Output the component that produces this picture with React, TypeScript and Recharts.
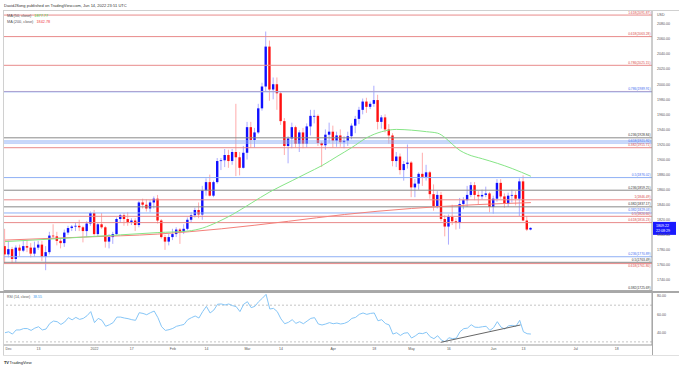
import { Bar, ComposedChart, Line, ReferenceLine, XAxis, YAxis } from 'recharts';

// trading day 0 = Dec 1 2021, -1 = Nov 30, 140 = Jun 15 2022
const firstDay = -1;

const opens = [
  1785, 1774, 1781, 1768, 1783, 1779, 1785, 1783, 1775, 1783, 1787, 1771, 1777, 1799, 1798, 1792, 1789, 1803, 1809, 1811, 1812, 1810, 1805, 1815,
  1829, 1801, 1814, 1810, 1791, 1797, 1801, 1821, 1826, 1821, 1817, 1819, 1813, 1843, 1840, 1835, 1843, 1848, 1819, 1797, 1791,
  1797, 1801, 1807, 1804, 1808, 1820, 1826, 1833, 1827, 1859, 1870, 1852, 1870, 1898, 1899, 1906, 1898, 1910, 1903, 1889,
  1909, 1943, 1926, 1936, 1968, 1997, 2050, 1993, 2000, 1988, 1951, 1918, 1928, 1943, 1921, 1936, 1921, 1944, 1958, 1958, 1922, 1919, 1933,
  1937, 1925, 1932, 1923, 1925, 1931, 1945, 1954, 1966, 1977, 1970, 1974, 1979, 1950, 1956, 1940, 1932, 1898, 1904, 1886, 1894,
  1896, 1863, 1868, 1881, 1877, 1883, 1854, 1838, 1853, 1821, 1811, 1824, 1818, 1816, 1841, 1846, 1853, 1866, 1853, 1851, 1853, 1855,
  1837, 1848, 1869, 1851, 1841, 1852, 1853, 1848, 1871, 1819, 1807,
];
const highs = [
  1808, 1792, 1784, 1786, 1787, 1793, 1793, 1789, 1791, 1792, 1792, 1785, 1804, 1814, 1804, 1795, 1807, 1812, 1813, 1816, 1820, 1812, 1818, 1831,
  1833, 1816, 1829, 1812, 1801, 1804, 1823, 1828, 1829, 1830, 1822, 1822, 1845, 1848, 1847, 1846, 1851, 1853, 1821, 1800, 1801,
  1808, 1810, 1809, 1814, 1823, 1830, 1836, 1843, 1865, 1875, 1880, 1872, 1902, 1902, 1914, 1913, 1914, 1974, 1910, 1918,
  1950, 1950, 1942, 1974, 2002, 2070, 2058, 2009, 2009, 1990, 1955, 1931, 1949, 1945, 1939, 1942, 1948, 1966, 1966, 1960, 1924, 1940, 1949,
  1945, 1937, 1940, 1931, 1937, 1948, 1958, 1970, 1981, 1982, 1977, 1998, 1986, 1959, 1960, 1947, 1935, 1910, 1908, 1898, 1920,
  1898, 1874, 1883, 1909, 1893, 1885, 1867, 1858, 1857, 1826, 1827, 1840, 1822, 1849, 1850, 1865, 1870, 1870, 1858, 1860, 1864, 1857,
  1852, 1874, 1874, 1855, 1856, 1860, 1858, 1875, 1879, 1825, 1810,
];
const lows = [
  1762, 1770, 1762, 1763, 1772, 1777, 1777, 1770, 1771, 1780, 1765, 1753, 1774, 1795, 1786, 1782, 1784, 1800, 1805, 1805, 1805, 1790, 1797, 1812,
  1799, 1798, 1808, 1783, 1782, 1788, 1800, 1816, 1812, 1812, 1813, 1805, 1810, 1835, 1831, 1830, 1835, 1815, 1795, 1780, 1786,
  1793, 1797, 1788, 1801, 1806, 1817, 1823, 1822, 1820, 1852, 1851, 1850, 1868, 1886, 1890, 1889, 1893, 1878, 1879, 1888,
  1900, 1916, 1916, 1934, 1965, 1990, 1978, 1980, 1966, 1946, 1906, 1895, 1915, 1916, 1910, 1915, 1916, 1932, 1948, 1918, 1890, 1913, 1922,
  1916, 1917, 1917, 1915, 1918, 1927, 1935, 1947, 1960, 1962, 1967, 1970, 1940, 1941, 1936, 1921, 1891, 1890, 1880, 1872, 1888,
  1850, 1850, 1860, 1865, 1872, 1848, 1832, 1835, 1818, 1798, 1787, 1813, 1807, 1808, 1834, 1837, 1850, 1846, 1840, 1847, 1850, 1830,
  1828, 1844, 1848, 1836, 1837, 1843, 1839, 1825, 1818, 1805, 1806,
];
const closes = [
  1774, 1781, 1768, 1783, 1779, 1785, 1783, 1775, 1783, 1787, 1771, 1777, 1799, 1798, 1792, 1789, 1803, 1809, 1811, 1812, 1810, 1805, 1815, 1829,
  1801, 1814, 1810, 1791, 1797, 1801, 1821, 1826, 1821, 1817, 1819, 1813, 1843, 1840, 1835, 1843, 1848, 1819, 1797, 1791, 1797,
  1801, 1807, 1804, 1808, 1820, 1826, 1833, 1827, 1859, 1870, 1852, 1870, 1898, 1899, 1906, 1898, 1910, 1903, 1889, 1909,
  1943, 1926, 1936, 1968, 1997, 2050, 1993, 2000, 1988, 1951, 1918, 1928, 1943, 1921, 1936, 1921, 1944, 1958, 1958, 1922, 1919, 1933, 1937,
  1925, 1932, 1923, 1925, 1931, 1945, 1954, 1966, 1977, 1970, 1974, 1979, 1950, 1956, 1940, 1932, 1898, 1904, 1886, 1894, 1896,
  1863, 1868, 1881, 1877, 1883, 1854, 1838, 1853, 1821, 1811, 1824, 1818, 1816, 1841, 1846, 1853, 1866, 1853, 1851, 1853, 1855, 1837,
  1848, 1869, 1851, 1841, 1852, 1853, 1848, 1871, 1819, 1807, 1809.22,
];

const rsiValues = [
  40, 41, 38.5, 43, 43, 44.5, 44.5, 42.5, 45, 46.5, 43, 44, 50, 52.7, 52, 49, 51.6, 56.4, 54, 56.7, 54.5, 55.6, 58.5, 63,
  51, 55.6, 53.5, 47, 48.7, 51, 57, 57, 56, 55.3, 54.2, 53.5, 61.8, 61, 59.6, 61.8, 63.6, 56.4, 46.5, 42.5, 43.3,
  44.7, 47, 48, 49, 54.2, 56.4, 58.2, 56, 63, 68.7, 61.5, 64.7, 71, 71.3, 70.2, 71.3, 69.5, 68.4, 63, 71,
  73.8, 67.3, 68.7, 73.8, 77.5, 81.8, 65.8, 66.5, 63, 55, 49.8, 51.3, 54.2, 50.2, 52, 49.8, 52.7, 55.6, 56.4, 49.5, 48.4, 49.5, 51,
  49.8, 50.5, 49.5, 50.2, 52, 55.6, 56.7, 60, 61.5, 60, 61, 61.5, 53, 54.2, 50, 48.5, 38.5, 40, 37, 39.5, 40,
  34.2, 36.5, 39.5, 39, 40.5, 35.6, 33.5, 36.7, 32, 30, 34.5, 33.5, 34, 41.1, 44.4, 45, 48.7, 46, 45.8, 46.5, 47, 42.5,
  45.5, 52, 46, 44, 47.5, 48, 47, 53.5, 41, 38.9, 38.55,
];

const ma50Points = [
  [-1, 1791], [10, 1794], [20, 1797], [30, 1800], [40, 1803], [48, 1805], [52, 1809], [56, 1817], [60, 1827], [65, 1842],
  [70, 1857], [76, 1872], [80, 1882], [84, 1892], [88, 1904], [92, 1916], [96, 1929], [100, 1937], [104, 1940], [108, 1939],
  [112, 1937], [115, 1935], [117, 1929], [119, 1920], [121, 1912], [123, 1907], [127, 1901], [131, 1895], [135, 1888], [140, 1877.77],
];
const ma200Points = [
  [-1, 1793], [20, 1797], [40, 1801], [57, 1808], [75, 1818], [90, 1827], [108, 1835], [125, 1840], [140, 1842.78],
];

const tickDays = [0, 8, 23, 33, 44, 53, 64, 73, 87, 98, 108, 118, 130, 138, 152, 163];
const tickLabels = ['Dec', '13', '2022', '17', 'Feb', '14', 'Mar', '14', 'Apr', '18', 'May', '16', 'Jun', '13', 'Jul', '18'];
const priceTicks = [1740, 1760, 1780, 1800, 1820, 1840, 1860, 1880, 1900, 1920, 1940, 1960, 1980, 2000, 2020, 2040, 2060, 2080];
const rsiTicks = [40, 60, 80];
const rsiBands = [70, 30];
const rsiTrend = [{ x: 115.8, y: 29.5 }, { x: 137.2, y: 48.4 }];

// below: label drawn under its line instead of above it
const fibLevels = [
  { price: 2091.87, text: '1.618(2091.87)', tone: 'red' },
  { price: 2063.28, text: '0.618(2063.28)', tone: 'red' },
  { price: 2025.15, text: '0.786(2025.15)', tone: 'red' },
  { price: 1990.4, text: '', tone: 'red' },
  { price: 1989.91, text: '0.786(1989.91)', tone: 'blue' },
  { price: 1928.84, text: '0.236(1928.84)', tone: 'black' },
  { price: 1924.6, text: '', tone: 'blue' },
  { price: 1921.92, text: '0.618(1921.92)', tone: 'blue' },
  { price: 1915.71, text: '0.382(1915.71)', tone: 'red' },
  { price: 1876.02, text: '0.5(1876.02)', tone: 'blue' },
  { price: 1859.25, text: '0.236(1859.25)', tone: 'black' },
  { price: 1846.49, text: '1(1846.49)', tone: 'red' },
  { price: 1837.17, text: '0.382(1837.17)', tone: 'black' },
  { price: 1829.03, text: '0.382(1829.03)', tone: 'blue' },
  { price: 1824.6, text: '0.5(1824.60)', tone: 'red' },
  { price: 1816.23, text: '0.618(1816.23)', tone: 'red' },
  { price: 1770.89, text: '0.236(1770.89)', tone: 'blue' },
  { price: 1763.49, text: '0.5(1763.49)', tone: 'black' },
  { price: 1761.8, text: '0.618(1761.80)', tone: 'red', below: true },
  { price: 1725.69, text: '0.382(1725.69)', tone: 'black' },
];

const lastPrice = 1809.22;
const lastClock = '22:08:29';

const lineColor: Record<string, string> = { red: '#e88a8a', blue: '#8fb0f5', black: '#8a8a8a' };
const textColor: Record<string, string> = { red: '#d94a4a', blue: '#3f6df0', black: '#333' };
const font = '"Liberation Sans", Arial, sans-serif';

const rows: any[] = closes.map((c, k) => ({
  i: firstDay + k,
  o: opens[k],
  h: highs[k],
  l: lows[k],
  c,
  rsi: rsiValues[k],
  ma50: null,
  ma200: null,
}));
ma50Points.forEach(([d, v]) => (rows[d - firstDay].ma50 = v));
ma200Points.forEach(([d, v]) => (rows[d - firstDay].ma200 = v));

const xDomain = [-1.53, 172.47];

const Candle = (props: any) => {
  const { x, y, width, height, payload } = props;
  if (!payload || payload.h == null) return null;
  const top = Math.min(y, y + height);
  const span = Math.abs(height);
  const k = span / (payload.h - payload.l || 1);
  const up = payload.c >= payload.o;
  const color = up ? '#1010ff' : '#ff1010';
  const cx = x + width / 2;
  const bodyTop = top + (payload.h - Math.max(payload.o, payload.c)) * k;
  const bodyH = Math.max(0.8, Math.abs(payload.c - payload.o) * k);
  return (
    <g>
      <line x1={cx} x2={cx} y1={top} y2={top + span} stroke={color} strokeOpacity={0.35} strokeWidth={1} />
      <rect x={cx - 1.2} y={bodyTop} width={2.4} height={bodyH} fill={color} />
    </g>
  );
};

const PriceTag = (props: any) => {
  const { viewBox } = props;
  const x = viewBox.x + viewBox.width + 1;
  const y = viewBox.y;
  return (
    <g>
      <rect x={x} y={y - 6} width={23} height={13} fill="#1a1aff" />
      <text x={x + 3} y={y - 0.8} fontSize={3.6} fill="#fff" fontFamily={font}>
        {lastPrice.toFixed(2)}
      </text>
      <text x={x + 3} y={y + 4} fontSize={3.6} fill="#fff" fontFamily={font}>
        {lastClock}
      </text>
    </g>
  );
};

const box = (style: any) => <div style={{ position: 'absolute', background: '#b5b5b5', ...style }} />;

export default function App() {
  return (
    <div style={{ position: 'absolute', left: 0, top: 0, width: 679, height: 368, background: '#fff', fontFamily: font, overflow: 'hidden' }}>
      <div style={{ position: 'absolute', left: 4, top: 3, fontSize: 4, color: '#333', whiteSpace: 'nowrap' }}>
        DavidJSong published on TradingView.com, Jun 14, 2022 23:51 UTC
      </div>

      <div style={{ position: 'absolute', left: 0, top: 0 }}>
        <ComposedChart width={679} height={292} data={rows} margin={{ top: 10, right: 0, left: 3, bottom: 1 }}>
          <XAxis dataKey="i" type="number" domain={xDomain} allowDataOverflow hide />
          <YAxis
            orientation="right"
            width={27}
            domain={[1725.4, 2098.6]}
            allowDataOverflow
            ticks={priceTicks}
            interval={0}
            tickFormatter={(v: number) => v.toFixed(2)}
            tick={{ fontSize: 3.6, fill: '#555', fontFamily: font }}
            tickLine={false}
            tickSize={0}
            tickMargin={5}
            axisLine={{ stroke: '#9a9a9a' }}
          />
          {fibLevels.map((f, n) => (
            <ReferenceLine
              key={n}
              y={f.price}
              stroke={lineColor[f.tone]}
              strokeWidth={1}
              label={
                f.text
                  ? {
                      value: f.text,
                      position: f.below ? 'insideTopRight' : 'insideBottomRight',
                      offset: 1.5,
                      fill: textColor[f.tone],
                      fontSize: 3.3,
                      fontFamily: font,
                    }
                  : undefined
              }
            />
          ))}
          <Line dataKey="ma200" type="monotone" stroke="#f4807a" strokeWidth={1} dot={false} connectNulls isAnimationActive={false} />
          <Line dataKey="ma50" type="monotone" stroke="#86e586" strokeWidth={1} dot={false} connectNulls isAnimationActive={false} />
          <Bar dataKey={(d: any) => [d.l, d.h]} barSize={3} shape={Candle} isAnimationActive={false} />
          <ReferenceLine y={lastPrice} stroke="none" label={<PriceTag />} />
        </ComposedChart>
      </div>

      <div style={{ position: 'absolute', left: 0, top: 291 }}>
        <ComposedChart width={679} height={65} data={rows} margin={{ top: 2, right: 0, left: 3, bottom: 1 }}>
          <XAxis
            dataKey="i"
            type="number"
            domain={xDomain}
            allowDataOverflow
            ticks={tickDays}
            interval={0}
            height={10}
            tickFormatter={(v: number) => tickLabels[tickDays.indexOf(v)]}
            tick={{ fontSize: 3.5, fill: '#555', fontFamily: font }}
            tickLine={false}
            tickSize={0}
            tickMargin={3}
            axisLine={{ stroke: '#9a9a9a' }}
          />
          <YAxis
            orientation="right"
            width={27}
            domain={[26.6, 83.27]}
            allowDataOverflow
            ticks={rsiTicks}
            tickFormatter={(v: number) => v.toFixed(2)}
            tick={{ fontSize: 3.6, fill: '#555', fontFamily: font }}
            tickLine={false}
            tickSize={0}
            tickMargin={5}
            axisLine={{ stroke: '#9a9a9a' }}
          />
          {rsiBands.map((b) => (
            <ReferenceLine key={b} y={b} stroke="#c4c4c4" strokeDasharray="2 2" />
          ))}
          <Line dataKey="rsi" type="linear" stroke="#86c6f7" strokeWidth={1} dot={false} isAnimationActive={false} />
          <ReferenceLine segment={rsiTrend} stroke="#666" strokeWidth={1} />
        </ComposedChart>
      </div>

      {box({ left: 3, top: 10, width: 676, height: 1, background: '#d0d0d0' })}
      {box({ left: 3, top: 10, width: 1, height: 345, background: '#d0d0d0' })}
      {box({ left: 0, top: 290.5, width: 679, height: 2, background: '#a8a8a8' })}
      {box({ left: 3, top: 355, width: 676, height: 1, background: '#e0e0e0' })}
      {box({ left: 652, top: 292, width: 1, height: 63, background: '#a8a8a8' })}

      <div style={{ position: 'absolute', left: 657, top: 12.5, fontSize: 3.6, color: '#555' }}>USD</div>

      <div style={{ position: 'absolute', left: 7, top: 13, fontSize: 3.8, color: '#555', lineHeight: '6.4px', whiteSpace: 'nowrap' }}>
        <div>
          MA (50, close) <span style={{ color: '#3fcf3f', marginLeft: 2 }}>1877.77</span>
        </div>
        <div>
          MA (200, close) <span style={{ color: '#f03c3c', marginLeft: 2 }}>1842.78</span>
        </div>
      </div>

      <div style={{ position: 'absolute', left: 7, top: 295, fontSize: 3.5, color: '#555', whiteSpace: 'nowrap' }}>
        RSI (14, close) <span style={{ color: '#3aa0f0', marginLeft: 2 }}>38.55</span>
      </div>

      <div style={{ position: 'absolute', left: 4, top: 359.5, fontSize: 4, color: '#222', whiteSpace: 'nowrap' }}>
        <b style={{ letterSpacing: -0.3 }}>TV</b> TradingView
      </div>
    </div>
  );
}
